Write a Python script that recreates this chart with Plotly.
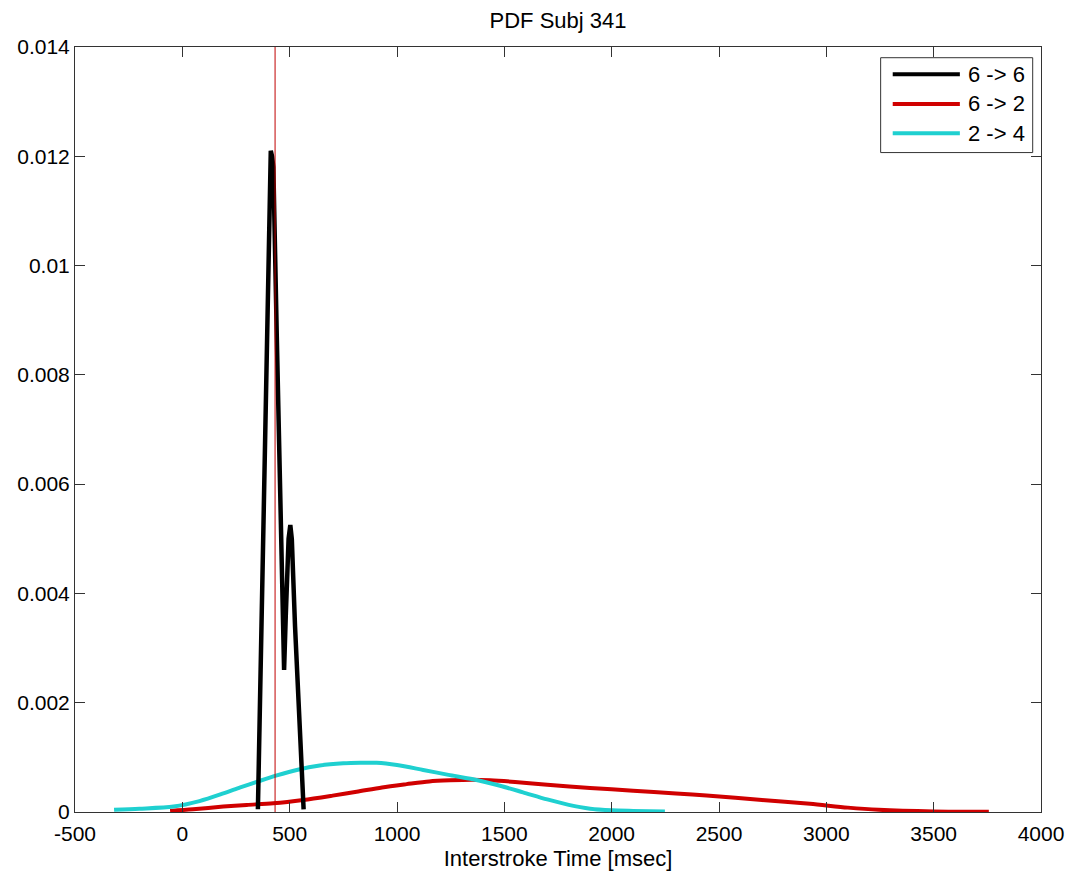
import plotly.graph_objects as go

# ---- data ----
series_names = ["6 -> 6", "6 -> 2", "2 -> 4"]
series_colors = ["#000000", "#d00000", "#1fd0d0"]

x_66 = [352, 370, 390, 405, 412, 418, 424, 440, 458, 468, 474, 482, 495, 503, 510, 525, 545, 565]
y_66 = [0.00005, 0.0037, 0.0083, 0.0116, 0.0121, 0.0120, 0.0118, 0.0087, 0.0052, 0.0031, 0.0026,
        0.0036, 0.0050, 0.00525, 0.0050, 0.0034, 0.0015, 0.00005]

x_62 = [-57, 50, 191, 300, 424, 563, 700, 812, 930, 1045, 1150, 1247, 1350, 1433, 1550, 1700,
        1899, 2100, 2300, 2442, 2700, 2924, 3100, 3244, 3500, 3757]
y_62 = [0.00002, 0.00005, 0.0001, 0.00013, 0.00016, 0.00022, 0.0003, 0.00037, 0.00045, 0.00051,
        0.00056, 0.00058, 0.00059, 0.00058, 0.00055, 0.0005, 0.00044, 0.00039, 0.00034, 0.0003,
        0.00022, 0.00015, 0.00008, 0.00004, 0.00001, 0.000005]

x_24 = [-318, -200, -41, 80, 191, 270, 346, 440, 533, 640, 750, 830, 905, 1000, 1122, 1240,
        1354, 1480, 1587, 1700, 1800, 1900, 2000, 2100, 2248]
y_24 = [0.00004, 0.00006, 0.0001, 0.0002, 0.00034, 0.00045, 0.00055, 0.00067, 0.00077, 0.00085,
        0.00089, 0.0009, 0.0009, 0.00086, 0.00077, 0.00068, 0.0006, 0.00048, 0.00036, 0.00023,
        0.00013, 0.00006, 0.00003, 0.00002, 0.00001]

marker_x = 432  # vertical red reference line

x_ticks = [-500, 0, 500, 1000, 1500, 2000, 2500, 3000, 3500, 4000]
x_ticktext = ["-500", "0", "500", "1000", "1500", "2000", "2500", "3000", "3500", "4000"]
y_ticks = [0, 0.002, 0.004, 0.006, 0.008, 0.01, 0.012, 0.014]
y_ticktext = ["0", "0.002", "0.004", "0.006", "0.008", "0.01", "0.012", "0.014"]

title_text = "PDF Subj 341"
x_title = "Interstroke Time [msec]"

FONT = "Liberation Sans, Arial, sans-serif"

fig = go.Figure()
fig.add_trace(go.Scatter(x=x_62, y=y_62, mode="lines", name=series_names[1],
                         line=dict(color=series_colors[1], width=4, shape="spline", smoothing=0.8),
                         showlegend=False))
fig.add_trace(go.Scatter(x=x_24, y=y_24, mode="lines", name=series_names[2],
                         line=dict(color=series_colors[2], width=4, shape="spline", smoothing=0.8),
                         showlegend=False))
fig.add_trace(go.Scatter(x=x_66, y=y_66, mode="lines", name=series_names[0],
                         line=dict(color=series_colors[0], width=4.5), showlegend=False))
fig.add_trace(go.Scatter(x=[marker_x, marker_x], y=[y_ticks[0], y_ticks[-1]], mode="lines",
                         line=dict(color="#c00000", width=1), showlegend=False))

# custom MATLAB-style legend (paper coordinates)
lx0, lx1, ly0, ly1 = 0.834, 0.9914, 0.862, 0.986
fig.add_shape(type="rect", xref="paper", yref="paper", x0=lx0, x1=lx1, y0=ly0, y1=ly1,
              line=dict(color="#333333", width=1), fillcolor="white", layer="above")
rows_y = [0.9643, 0.9255, 0.8872]
for name, color, ry in zip(series_names, series_colors, rows_y):
    fig.add_shape(type="line", xref="paper", yref="paper", x0=0.8465, x1=0.916, y0=ry, y1=ry,
                  line=dict(color=color, width=4), layer="above")
    fig.add_annotation(xref="paper", yref="paper", x=0.922, y=ry, text=name, showarrow=False,
                       xanchor="left", yanchor="middle", font=dict(family=FONT, size=22, color="black"))

axis_common = dict(showline=True, linecolor="#333333", linewidth=1, mirror="ticks",
                   ticks="inside", ticklen=10, tickcolor="#333333", showgrid=False,
                   zeroline=False, automargin=False,
                   tickfont=dict(family=FONT, size=21, color="black"))

fig.update_layout(
    width=1070, height=873,
    margin=dict(l=75, r=29, t=47, b=61),
    paper_bgcolor="white", plot_bgcolor="white",
    title=dict(text=title_text, x=0.5, xref="paper", xanchor="center", y=0.977, yanchor="middle",
               font=dict(family=FONT, size=22, color="black")),
    xaxis=dict(range=[-500, 4000], tickvals=x_ticks, ticktext=x_ticktext, ticklabelstandoff=3,
               **axis_common,
               title=dict(text=x_title, standoff=6, font=dict(family=FONT, size=22, color="black"))),
    yaxis=dict(range=[0, 0.014], tickvals=y_ticks, ticktext=y_ticktext, **axis_common),
)

fig.write_html("out.html")
